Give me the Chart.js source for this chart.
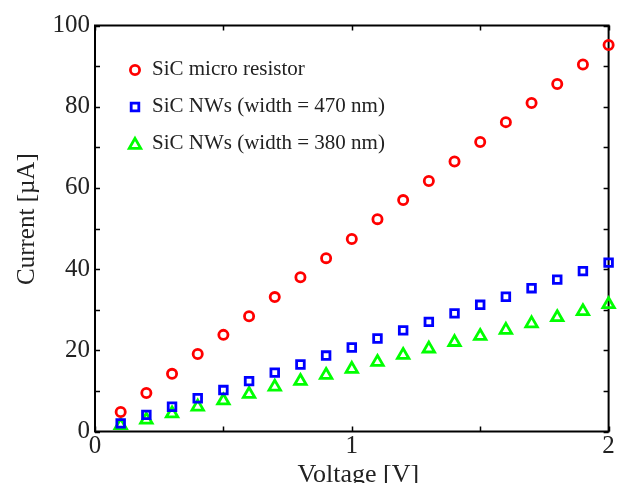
<!DOCTYPE html>
<html>
<head>
<meta charset="utf-8">
<script src="https://cdn.jsdelivr.net/npm/chart.js@4/dist/chart.umd.min.js"></script>
<style>
  html, body { margin: 0; padding: 0; background: #ffffff; }
  #wrap { width: 618px; height: 483px; position: relative; }
</style>
</head>
<body>
<div id="wrap"><canvas id="c" width="618" height="483"></canvas></div>
<script>
// ---- data ----
const voltage = [0.1, 0.2, 0.3, 0.4, 0.5, 0.6, 0.7, 0.8, 0.9, 1.0,
                 1.1, 1.2, 1.3, 1.4, 1.5, 1.6, 1.7, 1.8, 1.9, 2.0];
const microResistor = [4.8, 9.5, 14.2, 19.1, 23.8, 28.4, 33.1, 38.0, 42.7, 47.4,
                       52.3, 57.0, 61.7, 66.5, 71.3, 76.2, 80.9, 85.6, 90.4, 95.2];
const nw470 = [2.0, 4.1, 6.1, 8.2, 10.2, 12.4, 14.5, 16.5, 18.7, 20.7,
               22.9, 24.9, 27.0, 29.1, 31.2, 33.2, 35.3, 37.4, 39.5, 41.6];
const nw380 = [1.5, 2.9, 4.4, 6.1, 7.6, 9.2, 11.0, 12.4, 13.9, 15.4,
               17.1, 18.8, 20.4, 22.0, 23.5, 25.0, 26.6, 28.1, 29.6, 31.3];
const seriesNames = ['SiC micro resistor', 'SiC NWs (width = 470 nm)', 'SiC NWs (width = 380 nm)'];
const xTickLabels = ['0', '1', '2'];
const yTickLabels = ['0', '20', '40', '60', '80', '100'];
const xTitle = 'Voltage [V]';
const yTitle = 'Current [\u00B5A]';

const SERIF = "'Liberation Serif', 'Times New Roman', serif";
const TXT = '#222222';

function pts(ys) { return voltage.map((v, i) => ({ x: v, y: ys[i] })); }

// frame + inward ticks on all four sides
const framePlugin = {
  id: 'frame',
  beforeDatasetsDraw(chart) {
    const { ctx, chartArea: a, scales: { x, y } } = chart;
    ctx.save();
    ctx.strokeStyle = '#000';
    ctx.lineWidth = 1.5;
    const L = 5;
    ctx.beginPath();
    x.ticks.forEach(t => {
      const px = Math.round(x.getPixelForValue(t.value)) + 0.5;
      ctx.moveTo(px, a.bottom); ctx.lineTo(px, a.bottom - L);
      ctx.moveTo(px, a.top); ctx.lineTo(px, a.top + L);
    });
    y.ticks.forEach(t => {
      const py = Math.round(y.getPixelForValue(t.value)) + 0.5;
      ctx.moveTo(a.left, py); ctx.lineTo(a.left + L, py);
      ctx.moveTo(a.right, py); ctx.lineTo(a.right - L, py);
    });
    ctx.stroke();
    ctx.lineWidth = 2;
    ctx.strokeRect(a.left, a.top, a.right - a.left, a.bottom - a.top);
    ctx.restore();
  }
};

// legend drawn inside the plot area
const legendPlugin = {
  id: 'innerLegend',
  afterDatasetsDraw(chart) {
    const { ctx } = chart;
    const rows = [69, 106, 143];
    ctx.save();
    ctx.font = '21px ' + SERIF;
    ctx.textAlign = 'left';
    ctx.textBaseline = 'middle';
    chart.data.datasets.forEach((ds, i) => {
      const cy = rows[i];
      const my = cy + (ds.pointStyle === 'triangle' ? 2 : 1);
      const opts = { pointStyle: ds.pointStyle, radius: ds.pointRadius, rotation: 0, borderWidth: ds.pointBorderWidth };
      ctx.strokeStyle = ds.pointBorderColor;
      ctx.fillStyle = 'rgba(0,0,0,0)';
      ctx.lineWidth = ds.pointBorderWidth;
      Chart.helpers.drawPoint(ctx, opts, 135, my);
      ctx.fillStyle = TXT;
      ctx.fillText(ds.label, 152, cy);
    });
    ctx.restore();
  }
};

new Chart(document.getElementById('c'), {
  type: 'scatter',
  data: {
    datasets: [
      { label: seriesNames[0], data: pts(microResistor), pointStyle: 'circle', pointRadius: 4.6,
        pointBorderWidth: 2.8, pointBorderColor: '#ff0000', pointBackgroundColor: 'rgba(0,0,0,0)', showLine: false, clip: false },
      { label: seriesNames[1], data: pts(nw470), pointStyle: 'rect', pointRadius: 5.4,
        pointBorderWidth: 2.8, pointBorderColor: '#0000ff', pointBackgroundColor: 'rgba(0,0,0,0)', showLine: false, clip: false },
      { label: seriesNames[2], data: pts(nw380), pointStyle: 'triangle', pointRadius: 6.6,
        pointBorderWidth: 2.8, pointBorderColor: '#00ff00', pointBackgroundColor: 'rgba(0,0,0,0)', showLine: false, clip: false }
    ]
  },
  options: {
    responsive: false,
    animation: false,
    devicePixelRatio: 1,
    layout: { padding: { top: 25.5, right: 8, left: 0, bottom: 0 } },
    plugins: { legend: { display: false }, tooltip: { enabled: false } },
    elements: { point: { hoverRadius: 5 } },
    scales: {
      x: {
        type: 'linear', min: 0, max: 2,
        grid: { display: false, drawTicks: false },
        border: { display: false },
        ticks: {
          stepSize: 0.5, padding: 0, color: TXT,
          font: { family: SERIF, size: 25 },
          callback: (v) => { const i = xTickLabels.indexOf(String(v)); return i >= 0 ? xTickLabels[i] : ''; }
        },
        title: { display: true, text: '  ' + xTitle, color: TXT,
                 font: { family: SERIF, size: 26, lineHeight: 1 }, padding: { top: 0, bottom: -5 } },
        afterFit: (s) => { s.height = 51.5; }
      },
      y: {
        type: 'linear', min: 0, max: 100,
        grid: { display: false, drawTicks: false },
        border: { display: false },
        ticks: {
          stepSize: 10, padding: 5, color: TXT,
          font: { family: SERIF, size: 25 },
          callback: (v) => { const i = yTickLabels.indexOf(String(v)); return i >= 0 ? yTickLabels[i] : ''; }
        },
        title: { display: true, text: '   ' + yTitle, color: TXT,
                 font: { family: SERIF, size: 25, lineHeight: 1 }, padding: { top: 15, bottom: 0 } },
        afterFit: (s) => { s.width = 95; }
      }
    }
  },
  plugins: [framePlugin, legendPlugin]
});
</script>
</body>
</html>
